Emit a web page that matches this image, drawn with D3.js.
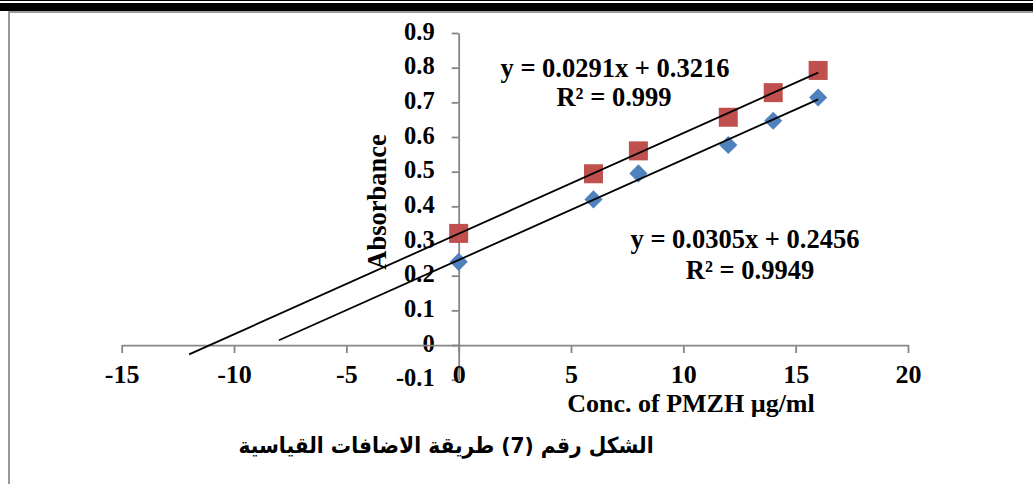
<!DOCTYPE html>
<html>
<head>
<meta charset="utf-8">
<script src="https://cdn.jsdelivr.net/npm/d3@7"></script>
<style>
  html, body { margin: 0; padding: 0; background: #fff; }
  svg { display: block; }
  .tick text { font-family: "Liberation Serif", "Times New Roman", serif; font-weight: bold; fill: #000; }
  .lbl { font-family: "Liberation Serif", "Times New Roman", serif; font-weight: bold; fill: #000; }
</style>
</head>
<body>
<svg id="chart" width="1033" height="484"></svg>
<script>
// data
var concX = [0, 6, 8, 12, 14, 16];
var absSample = [0.240, 0.420, 0.495, 0.577, 0.647, 0.714];   // blue diamonds
var absStd = [0.322, 0.494, 0.560, 0.657, 0.728, 0.792];      // red squares
var backSample = 8, backStd = 12;                             // trendline backward forecast
var xTicks = [-15, -10, -5, 0, 5, 10, 15, 20];
var yTicks = [-0.1, 0, 0.1, 0.2, 0.3, 0.4, 0.5, 0.6, 0.7, 0.8, 0.9];
var eqStd = ["y = 0.0291x + 0.3216", "R² = 0.999"];
var eqSample = ["y = 0.0305x + 0.2456", "R² = 0.9949"];
var xTitle = "Conc. of PMZH µg/ml";
var yTitle = "Absorbance";
var caption = "الشكل رقم (7) طريقة الاضافات القياسية";

var svg = d3.select('#chart');
var axisCol = '#868686';

// page decoration: black band + frame
svg.append('rect').attr('x', 0).attr('y', 0).attr('width', 1033).attr('height', 1).attr('fill', '#000');
svg.append('rect').attr('x', 0).attr('y', 3).attr('width', 1033).attr('height', 8).attr('fill', '#000');
svg.append('line').attr('x1', 8).attr('x2', 1033).attr('y1', 12).attr('y2', 12)
    .attr('stroke', '#9a9a9a').attr('stroke-width', 2);
svg.append('line').attr('x1', 9).attr('x2', 9).attr('y1', 11).attr('y2', 484)
    .attr('stroke', '#9a9a9a').attr('stroke-width', 2);

var x = d3.scaleLinear().domain([-15, 20]).range([121.7, 908]);
var y = d3.scaleLinear().domain([-0.1, 0.9]).range([379.7, 33]);

// y axis through x = 0
var gy = svg.append('g')
    .attr('transform', 'translate(' + x(0) + ',0)')
    .call(d3.axisLeft(y).tickValues(yTicks).tickSize(7).tickSizeOuter(0).tickPadding(17)
      .tickFormat(function (d) { return d === 0 ? '0' : d.toFixed(1); }));
gy.selectAll('.tick text').attr('font-size', 24.5).attr('dy', 6);

// x axis through y = 0
var gx = svg.append('g')
    .attr('transform', 'translate(0,' + y(0) + ')')
    .call(d3.axisBottom(x).tickValues(xTicks).tickSize(8).tickSizeOuter(0).tickPadding(11.5)
      .tickFormat(function (d) { return String(d); }));
gx.selectAll('.tick text').attr('font-size', 26);

[gx, gy].forEach(function (g) {
  g.select('.domain').attr('stroke', axisCol).attr('stroke-width', 1.8);
  g.selectAll('.tick line').attr('stroke', axisCol).attr('stroke-width', 1.8);
  g.attr('font-family', null);
});

// markers
var sample = concX.map(function (c, i) { return { x: c, y: absSample[i] }; });
var std = concX.map(function (c, i) { return { x: c, y: absStd[i] }; });

svg.append('g').selectAll('path').data(sample).enter().append('path')
    .attr('d', d3.symbol().type(d3.symbolSquare).size(165))
    .attr('transform', function (d) { return 'translate(' + x(d.x) + ',' + y(d.y) + ') rotate(45)'; })
    .attr('fill', '#4F81BD');

svg.append('g').selectAll('rect').data(std).enter().append('rect')
    .attr('x', function (d) { return x(d.x) - 9.5; })
    .attr('y', function (d) { return y(d.y) - 9.5; })
    .attr('width', 19).attr('height', 19)
    .attr('fill', '#C0504D');

// least squares trendlines, extended backwards like excel's forecast
function fit(pts) {
  var mx = d3.mean(pts, function (p) { return p.x; }),
      my = d3.mean(pts, function (p) { return p.y; });
  var sxy = d3.sum(pts, function (p) { return (p.x - mx) * (p.y - my); }),
      sxx = d3.sum(pts, function (p) { return (p.x - mx) * (p.x - mx); });
  var m = sxy / sxx;
  return { m: m, b: my - m * mx };
}

function trend(pts, back) {
  var f = fit(pts);
  var x0 = d3.min(pts, function (p) { return p.x; }) - back,
      x1 = d3.max(pts, function (p) { return p.x; });
  svg.append('line')
      .attr('x1', x(x0)).attr('y1', y(f.m * x0 + f.b))
      .attr('x2', x(x1)).attr('y2', y(f.m * x1 + f.b))
      .attr('stroke', '#000').attr('stroke-width', 1.8);
}
trend(std, backStd);
trend(sample, backSample);

// equation labels
function eq(lines, cx, base) {
  svg.append('text').attr('class', 'lbl').attr('font-size', 26.5).attr('text-anchor', 'middle')
      .attr('x', cx[0]).attr('y', base[0]).text(lines[0]);
  svg.append('text').attr('class', 'lbl').attr('font-size', 26.5).attr('text-anchor', 'middle')
      .attr('x', cx[1]).attr('y', base[1]).text(lines[1]);
}
eq(eqStd, [615, 614], [77, 106]);
eq(eqSample, [745, 750], [248, 279]);

// axis titles
svg.append('text').attr('class', 'lbl').attr('font-size', 26).attr('text-anchor', 'middle')
    .attr('x', 691).attr('y', 412).text(xTitle);
svg.append('text').attr('class', 'lbl').attr('font-size', 26.5).attr('text-anchor', 'middle')
    .attr('transform', 'translate(386,202) rotate(-90)').text(yTitle);

// arabic caption
svg.append('text')
    .attr('transform', 'translate(446,453) scale(0.92,1)')
    .attr('text-anchor', 'middle')
    .attr('direction', 'rtl')
    .attr('font-family', '"DejaVu Sans", sans-serif')
    .attr('font-weight', 'bold')
    .attr('font-size', 22)
    .text(caption);
</script>
</body>
</html>
